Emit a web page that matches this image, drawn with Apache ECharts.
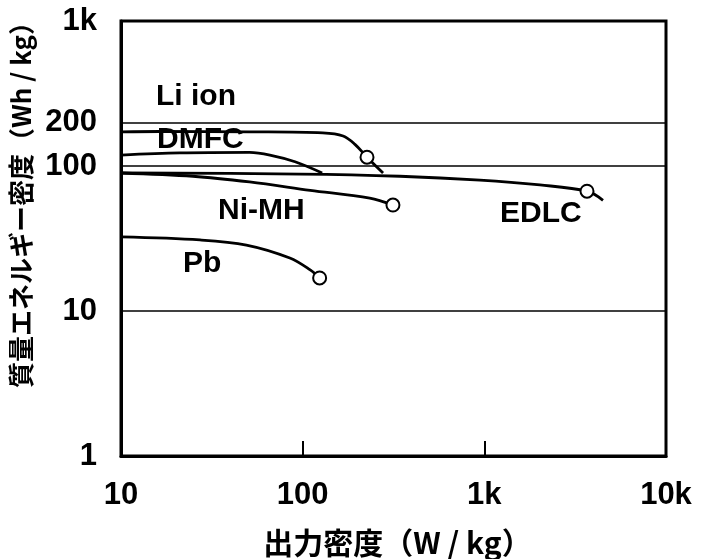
<!DOCTYPE html>
<html>
<head>
<meta charset="utf-8">
<script src="https://cdn.jsdelivr.net/npm/echarts@6/dist/echarts.min.js"></script>
<style>html,body{margin:0;padding:0;background:#fff}#c{width:701px;height:559px}</style>
</head>
<body>
<div id="c"></div>
<script>
// ---- data (W/kg, Wh/kg) ----
const xTickLabels = {10:'10', 100:'100', 1000:'1k', 10000:'10k'};
const yTickLabels = {1:'1', 10:'10', 100:'100', 1000:'1k'};
const refLineValue = 200;

const liIonX = [10, 16.4, 51, 129, 167, 194, 226, 277];
const liIonY = [172, 173, 172, 169, 161, 141, 115, 89.5];

const dmfcX = [10, 21.1, 51, 66, 90.8, 128];
const dmfcY = [119, 123, 124, 119, 107, 89.5];

const edlcX = [10, 97, 343, 946, 2023, 3674, 4500];
const edlcY = [89.5, 88, 85, 80, 74, 67, 58];

const nimhX = [10, 24.9, 51, 110, 234, 314];
const nimhY = [89.5, 85, 77.6, 68, 60, 53.8];

const pbX = [10, 27.2, 49, 85, 110, 124];
const pbY = [32.4, 30.9, 28.5, 23.2, 19.2, 16.9];

const markerX = [226, 314, 3674, 124];
const markerY = [115, 53.8, 67, 16.9];

const seriesNames = ['Li ion', 'DMFC', 'EDLC', 'Ni-MH', 'Pb'];
// -----------------------------

const zip = (a, b) => a.map((v, i) => [v, b[i]]);
const numFont = "'Liberation Sans', Arial, sans-serif";
const cjkFont = "'Noto Sans CJK JP', 'Noto Sans', sans-serif";

const curves = [[liIonX, liIonY], [dmfcX, dmfcY], [edlcX, edlcY], [nimhX, nimhY], [pbX, pbY]];

const series = curves.map((c, i) => ({
  name: seriesNames[i],
  type: 'line',
  data: zip(c[0], c[1]),
  smooth: 0.35,
  symbol: 'none',
  lineStyle: {color: '#000', width: 2.8},
  z: 3
}));

series.push({
  type: 'scatter',
  data: zip(markerX, markerY),
  symbol: 'circle',
  symbolSize: 13,
  itemStyle: {color: '#fff', borderColor: '#000', borderWidth: 2, opacity: 1},
  z: 5
});

series.push({
  type: 'line',
  data: [],
  markLine: {
    silent: true,
    symbol: 'none',
    lineStyle: {color: '#000', width: 1.5, type: 'solid'},
    label: {
      position: 'start', distance: 24,
      formatter: String(refLineValue),
      color: '#000', fontFamily: numFont, fontWeight: 'bold', fontSize: 31
    },
    data: [{yAxis: refLineValue}]
  }
});

const textLabels = [
  {text: 'Li ion', x: 156, y: 98},
  {text: 'DMFC', x: 157, y: 141},
  {text: 'Ni-MH', x: 218, y: 212},
  {text: 'EDLC', x: 500, y: 215},
  {text: 'Pb', x: 183, y: 265}
];

const chart = echarts.init(document.getElementById('c'));
chart.setOption({
  animation: false,
  backgroundColor: '#fff',
  grid: {left: 121, right: 35, top: 21, bottom: 103, show: true, borderColor: '#000', borderWidth: 3,
         backgroundColor: 'transparent', containLabel: false, outerBoundsMode: 'none'},
  xAxis: {
    type: 'log', logBase: 10, min: 10, max: 10000,
    axisLine: {show: true, lineStyle: {color: '#000', width: 3}},
    axisTick: {show: true, inside: true, length: 15, lineStyle: {color: '#000', width: 2}},
    minorTick: {show: false},
    splitLine: {show: false},
    axisLabel: {
      margin: 24, color: '#000', fontFamily: numFont, fontWeight: 'bold', fontSize: 31,
      formatter: v => xTickLabels[Math.round(v)] || ''
    },
    name: '出力密度（W / kg）', nameLocation: 'middle', nameGap: 72,
    nameTextStyle: {color: '#000', fontFamily: cjkFont, fontWeight: 'bold', fontSize: 30, padding: [0, 0, 0, 8]}
  },
  yAxis: {
    type: 'log', logBase: 10, min: 1, max: 1000,
    axisLine: {show: true, lineStyle: {color: '#000', width: 3}},
    axisTick: {show: false},
    splitLine: {show: true, lineStyle: {color: '#000', width: 1.5}},
    axisLabel: {
      margin: 24, color: '#000', fontFamily: numFont, fontWeight: 'bold', fontSize: 31,
      formatter: v => yTickLabels[Math.round(v)] || ''
    },
    name: '質量エネルギー密度（Wh / kg）', nameLocation: 'middle', nameGap: 84, nameRotate: 90,
    nameTextStyle: {color: '#000', fontFamily: cjkFont, fontWeight: 'bold', fontSize: 26, padding: [0, 0, 0, 80]}
  },
  graphic: textLabels.map(t => ({
    type: 'text', left: t.x, top: t.y - 16, z: 10,
    style: {text: t.text, fill: '#000', font: "bold 30px " + numFont}
  })),
  series: series
});
</script>
</body>
</html>
